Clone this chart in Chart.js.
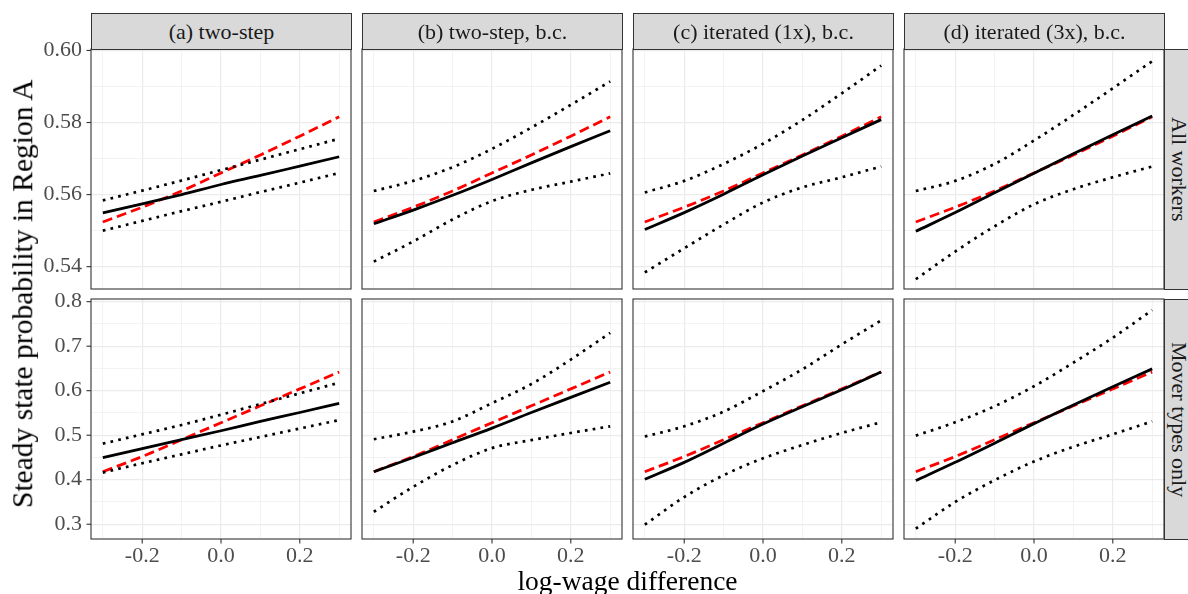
<!DOCTYPE html>
<html><head><meta charset="utf-8">
<script src="https://cdn.jsdelivr.net/npm/chart.js@4"></script>
<style>
html,body{margin:0;padding:0;background:#fff;}
#root{position:relative;width:1188px;height:594px;overflow:hidden;font-family:"Liberation Serif",serif;}
.wrap{position:absolute;}
.strip{position:absolute;background:#d9d9d9;border:1px solid #333;box-sizing:border-box;color:#1a1a1a;font-size:22px;display:flex;align-items:center;justify-content:center;white-space:nowrap;}
.rstrip{writing-mode:vertical-rl;}
.title{position:absolute;color:#000;white-space:nowrap;line-height:1;text-align:center;}
</style></head>
<body><div id="root"></div>
<script>
// ---------- data ----------
const xValues = [-0.3, -0.2, -0.1, 0.0, 0.1, 0.2, 0.3];
const panelTitles = ['(a) two-step', '(b) two-step, b.c.', '(c) iterated (1x), b.c.', '(d) iterated (3x), b.c.'];
const rowTitles = ['All workers', 'Mover types only'];

// Row 1: All workers
const allEstimate = [
  [0.5549, 0.5574, 0.5600, 0.5628, 0.5653, 0.5679, 0.5705],
  [0.5519, 0.5557, 0.5598, 0.5642, 0.5688, 0.5733, 0.5777],
  [0.5503, 0.5550, 0.5601, 0.5655, 0.5707, 0.5758, 0.5808],
  [0.5498, 0.5550, 0.5605, 0.5659, 0.5713, 0.5766, 0.5818]
];
const allTruth = [0.5524, 0.5565, 0.5610, 0.5660, 0.5710, 0.5762, 0.5816];
const allUpper = [
  [0.5584, 0.5611, 0.5639, 0.5668, 0.5697, 0.5726, 0.5755],
  [0.5610, 0.5638, 0.5676, 0.5727, 0.5786, 0.5849, 0.5914],
  [0.5606, 0.5638, 0.5685, 0.5741, 0.5807, 0.5881, 0.5958],
  [0.5610, 0.5638, 0.5685, 0.5750, 0.5821, 0.5895, 0.5970]
];
const allLower = [
  [0.5500, 0.5527, 0.5554, 0.5580, 0.5607, 0.5633, 0.5660],
  [0.5414, 0.5470, 0.5531, 0.5582, 0.5613, 0.5636, 0.5659],
  [0.5384, 0.5451, 0.5517, 0.5578, 0.5620, 0.5648, 0.5678],
  [0.5365, 0.5442, 0.5512, 0.5573, 0.5615, 0.5648, 0.5678]
];

// Row 2: Mover types only
const moverEstimate = [
  [0.4495, 0.470, 0.490, 0.510, 0.531, 0.551, 0.5715],
  [0.418, 0.450, 0.483, 0.516, 0.551, 0.585, 0.619],
  [0.401, 0.439, 0.482, 0.525, 0.564, 0.602, 0.642],
  [0.398, 0.439, 0.482, 0.526, 0.568, 0.609, 0.649]
];
const moverTruth = [0.418, 0.452, 0.490, 0.528, 0.566, 0.604, 0.642];
const moverUpper = [
  [0.481, 0.502, 0.523, 0.546, 0.570, 0.594, 0.618],
  [0.491, 0.508, 0.531, 0.572, 0.615, 0.670, 0.730],
  [0.497, 0.520, 0.553, 0.599, 0.648, 0.704, 0.758],
  [0.499, 0.529, 0.565, 0.610, 0.663, 0.719, 0.781]
];
const moverLower = [
  [0.416, 0.437, 0.457, 0.477, 0.496, 0.515, 0.534],
  [0.328, 0.384, 0.433, 0.471, 0.489, 0.505, 0.520],
  [0.299, 0.361, 0.410, 0.448, 0.478, 0.505, 0.529],
  [0.290, 0.350, 0.399, 0.441, 0.474, 0.502, 0.531]
];

// ---------- axes ----------
const xGridValues = [-0.3, -0.2, -0.1, 0.0, 0.1, 0.2, 0.3];
const xMajorValues = [-0.2, 0.0, 0.2];
const xTickLabels = ['-0.2', '0.0', '0.2'];
const xRange = [-0.33, 0.33];

const yGridTop = [0.54, 0.55, 0.56, 0.57, 0.58, 0.59, 0.60];
const yMajorTop = [0.54, 0.56, 0.58, 0.60];
const yLabelsTop = ['0.54', '0.56', '0.58', '0.60'];
const yRangeTop = [0.5338, 0.6004];

const yGridBottom = [0.30, 0.35, 0.40, 0.45, 0.50, 0.55, 0.60, 0.65, 0.70, 0.75, 0.80];
const yMajorBottom = [0.3, 0.4, 0.5, 0.6, 0.7, 0.8];
const yLabelsBottom = ['0.3', '0.4', '0.5', '0.6', '0.7', '0.8'];
const yRangeBottom = [0.2668, 0.806];

// ---------- layout ----------
const colLeft = [91, 362, 633, 904];
const rowTop = [49, 299];
const PW = 260, PH = 240;
const FONT = '"Liberation Serif", serif';

const root = document.getElementById('root');

function near(v, arr){ return arr.some(a => Math.abs(a - v) < 1e-6); }
function labelFor(v, majors, labels){
  for (let i = 0; i < majors.length; i++) if (Math.abs(majors[i] - v) < 1e-6) return labels[i];
  return '';
}

const framePlugin = {
  id: 'frame',
  afterDraw(chart, args, opts) {
    const ctx = chart.ctx, a = chart.chartArea;
    ctx.save();
    ctx.strokeStyle = '#333333';
    ctx.lineWidth = 1.1;
    ctx.strokeRect(a.left, a.top, a.right - a.left, a.bottom - a.top);
    if (opts.yTicks) {
      const s = chart.scales.y;
      opts.yTicks.forEach(v => { const p = s.getPixelForValue(v); ctx.beginPath(); ctx.moveTo(a.left - 4.5, p); ctx.lineTo(a.left, p); ctx.stroke(); });
    }
    if (opts.xTicks) {
      const s = chart.scales.x;
      opts.xTicks.forEach(v => { const p = s.getPixelForValue(v); ctx.beginPath(); ctx.moveTo(p, a.bottom); ctx.lineTo(p, a.bottom + 4.5); ctx.stroke(); });
    }
    ctx.restore();
  }
};

function pts(ys){ return xValues.map((x, i) => ({x: x, y: ys[i]})); }

function makePanel(r, c) {
  const padL = c === 0 ? 91 : 30, padT = 30, padR = 30, padB = r === 1 ? 55 : 30;
  const w = PW + padL + padR, h = PH + padT + padB;
  const div = document.createElement('div');
  div.className = 'wrap';
  div.style.left = (colLeft[c] - padL) + 'px';
  div.style.top = (rowTop[r] - padT) + 'px';
  div.style.width = w + 'px';
  div.style.height = h + 'px';
  const cv = document.createElement('canvas');
  cv.width = w; cv.height = h;
  cv.style.width = w + 'px'; cv.style.height = h + 'px';
  div.appendChild(cv);
  root.appendChild(div);

  const est = r === 0 ? allEstimate[c] : moverEstimate[c];
  const tru = r === 0 ? allTruth : moverTruth;
  const up = r === 0 ? allUpper[c] : moverUpper[c];
  const lo = r === 0 ? allLower[c] : moverLower[c];
  const yGrid = r === 0 ? yGridTop : yGridBottom;
  const yMaj = r === 0 ? yMajorTop : yMajorBottom;
  const yLab = r === 0 ? yLabelsTop : yLabelsBottom;
  const yRange = r === 0 ? yRangeTop : yRangeBottom;

  const base = {pointRadius: 0, fill: false, cubicInterpolationMode: 'monotone', borderCapStyle: 'butt'};
  const dotted = Object.assign({borderColor: '#000', borderWidth: 2.7, borderDash: [2.7, 5.2]}, base);

  new Chart(cv, {
    type: 'line',
    data: {
      datasets: [
        Object.assign({label: 'upper', data: pts(up)}, dotted),
        Object.assign({label: 'lower', data: pts(lo)}, dotted),
        Object.assign({label: 'estimate', data: pts(est), borderColor: '#000', borderWidth: 2.8}, base),
        Object.assign({label: 'truth', data: pts(tru), borderColor: '#ff0000', borderWidth: 2.8, borderDash: [10, 5]}, base)
      ]
    },
    options: {
      responsive: false,
      animation: false,
      layout: {padding: {left: c === 0 ? 0 : padL, top: padT, right: padR, bottom: r === 1 ? 0 : padB}},
      plugins: {
        legend: {display: false}, tooltip: {enabled: false},
        frame: {yTicks: c === 0 ? yMaj : null, xTicks: r === 1 ? xMajorValues : null}
      },
      scales: {
        x: {
          type: 'linear', min: xRange[0], max: xRange[1],
          border: {display: false},
          grid: {color: '#ebebeb', drawTicks: false, lineWidth: ctx => near(ctx.tick.value, xMajorValues) ? 1.2 : 0.6},
          afterBuildTicks: s => { s.ticks = xGridValues.map(v => ({value: v})); },
          afterFit: s => { s.height = r === 1 ? 55 : 0; },
          ticks: {display: r === 1, autoSkip: false, maxRotation: 0, padding: 4, color: '#4d4d4d', font: {family: FONT, size: 22},
                  callback: v => labelFor(v, xMajorValues, xTickLabels)}
        },
        y: {
          type: 'linear', min: yRange[0], max: yRange[1],
          border: {display: false},
          grid: {color: '#ebebeb', drawTicks: false, lineWidth: ctx => near(ctx.tick.value, yMaj) ? 1.2 : 0.6},
          afterBuildTicks: s => { s.ticks = yGrid.map(v => ({value: v})); },
          afterFit: s => { s.width = c === 0 ? 91 : 0; },
          ticks: {display: c === 0, autoSkip: false, padding: 9, color: '#4d4d4d', font: {family: FONT, size: 22},
                  callback: v => labelFor(v, yMaj, yLab)}
        }
      }
    },
    plugins: [framePlugin]
  });
}

for (let r = 0; r < 2; r++) for (let c = 0; c < 4; c++) makePanel(r, c);

// strips
panelTitles.forEach((t, c) => {
  const d = document.createElement('div');
  d.className = 'strip';
  d.style.left = colLeft[c] + 'px'; d.style.top = '13px';
  d.style.width = (PW + 1) + 'px'; d.style.height = (rowTop[0] - 13 + 1) + 'px';
  d.textContent = t;
  root.appendChild(d);
});
rowTitles.forEach((t, r) => {
  const d = document.createElement('div');
  d.className = 'strip rstrip';
  d.style.left = (colLeft[3] + PW) + 'px'; d.style.top = rowTop[r] + 'px';
  d.style.width = '30px'; d.style.height = (PH + 1) + 'px';
  d.textContent = t;
  root.appendChild(d);
});

// axis titles
const xt = document.createElement('div');
xt.className = 'title';
xt.style.fontSize = '27.5px';
xt.style.left = colLeft[0] + 'px';
xt.style.width = (colLeft[3] + PW - colLeft[0]) + 'px';
xt.style.top = '567px';
xt.textContent = 'log-wage difference';
root.appendChild(xt);

const yt = document.createElement('div');
yt.className = 'title';
yt.style.fontSize = '29.5px';
yt.style.width = '600px';
yt.style.height = '29.5px';
yt.style.left = (23 - 300) + 'px';
yt.style.top = (294 - 14.75) + 'px';
yt.style.transform = 'rotate(-90deg)';
yt.textContent = 'Steady state probability in Region A';
root.appendChild(yt);
</script>
</body></html>
